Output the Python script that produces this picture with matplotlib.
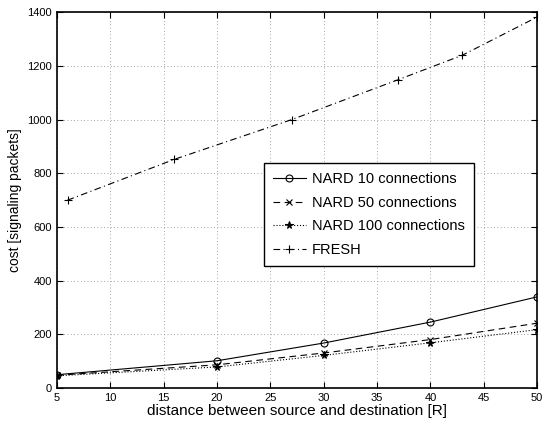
import matplotlib
matplotlib.use("Agg")
import matplotlib.pyplot as plt

plt.rcParams["font.family"] = ["Liberation Sans", "DejaVu Sans"]

# data
x_nard = [5, 20, 30, 40, 50]
nard10 = [50, 102, 168, 246, 340]
nard50 = [48, 87, 131, 181, 242]
nard100 = [46, 79, 122, 169, 218]

x_fresh = [6, 16, 27, 37, 43, 50]
fresh = [700, 852, 1000, 1149, 1240, 1382]

x_ticks = [5, 10, 15, 20, 25, 30, 35, 40, 45, 50]
y_ticks = [0, 200, 400, 600, 800, 1000, 1200, 1400]

fig = plt.figure(figsize=(5.47, 4.21), dpi=100)
ax = fig.add_axes([0.104, 0.078, 0.878, 0.893])

ax.plot(x_nard, nard10, "-", color="black", lw=0.8, marker="o", ms=5,
        mfc="none", mew=0.8, label="NARD 10 connections")
ax.plot(x_nard, nard50, "--", color="black", lw=0.8, marker="x", ms=4.5,
        mew=0.8, dashes=(6, 4), label="NARD 50 connections")
ax.plot(x_nard, nard100, ":", color="black", lw=0.8, marker="*", ms=5.5,
        mew=0.8, label="NARD 100 connections")
ax.plot(x_fresh, fresh, "-.", color="black", lw=0.8, marker="+", ms=6,
        mew=0.8, dashes=(6, 3, 1, 3), label="FRESH")

ax.set_xlim(5, 50)
ax.set_ylim(0, 1400)
ax.set_xticks(x_ticks)
ax.set_yticks(y_ticks)
ax.grid(True, linestyle=(0, (1, 3)), color="#888888", lw=0.6)
ax.tick_params(direction="in", top=True, right=True, labelsize=8, length=4, width=0.8)
for sp in ax.spines.values():
    sp.set_linewidth(1.2)

ax.set_xlabel("distance between source and destination [R]", fontsize=11, labelpad=1)
ax.set_ylabel("cost [signaling packets]", fontsize=10, labelpad=4)

leg = ax.legend(loc="upper left", bbox_to_anchor=(0.431, 0.598), borderaxespad=0,
                fontsize=10.5, fancybox=False, framealpha=1, edgecolor="black",
                handlelength=2.3, handletextpad=0.4, borderpad=0.6,
                labelspacing=0.66)
leg.get_frame().set_linewidth(1.0)

fig.savefig("out.png", dpi=100)
